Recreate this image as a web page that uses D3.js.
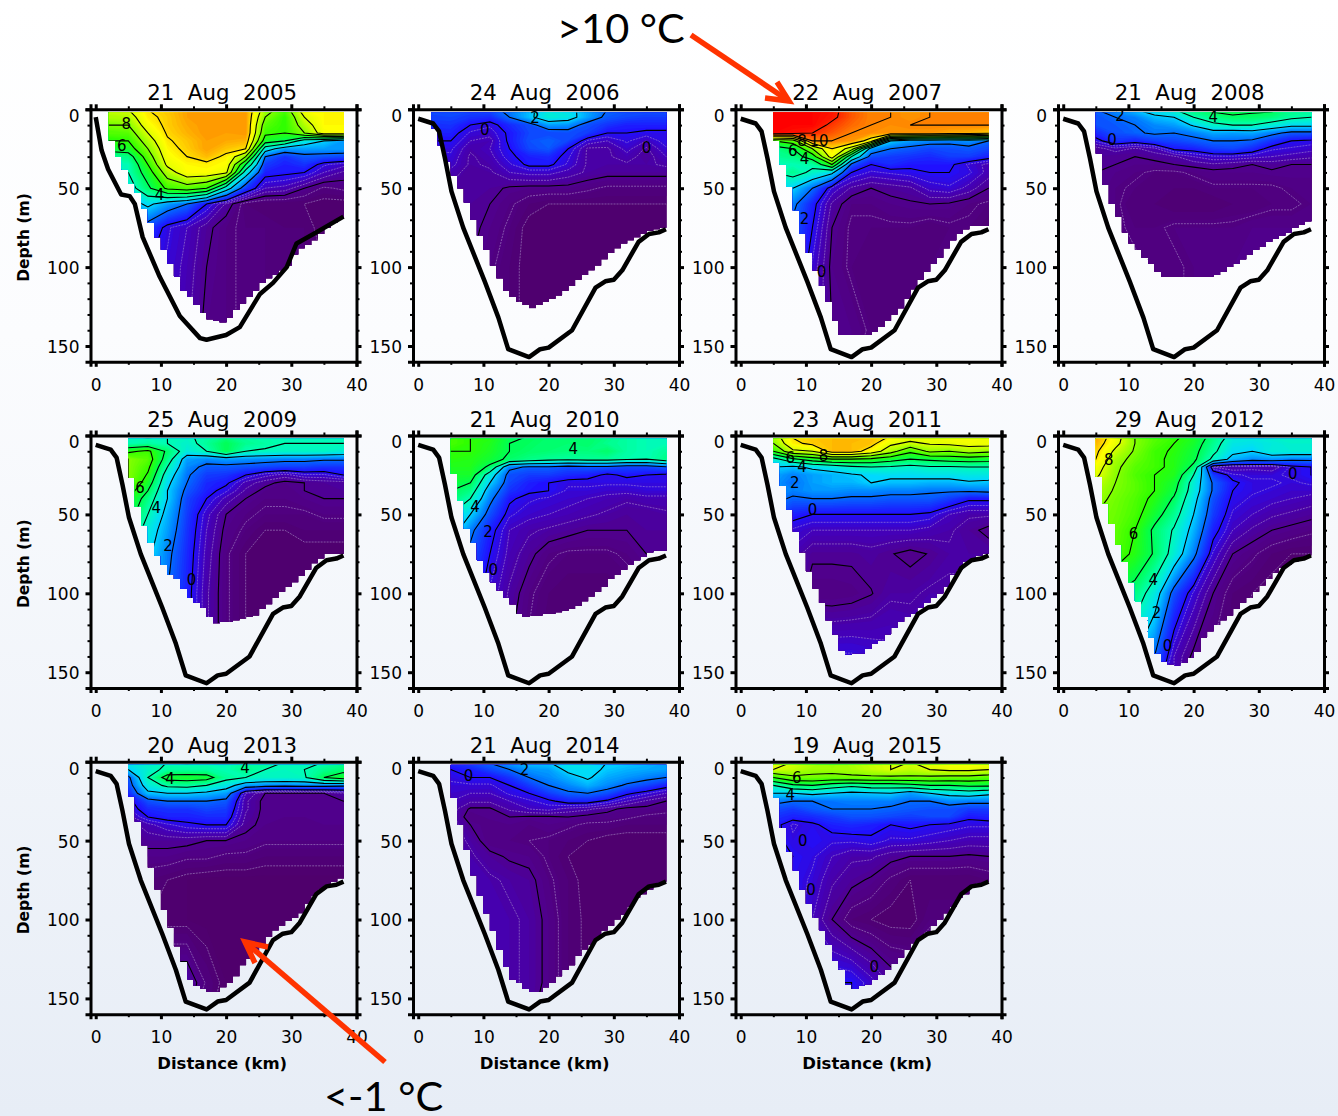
<!DOCTYPE html>
<html>
<head>
<meta charset="utf-8">
<script src="https://cdn.jsdelivr.net/npm/d3@7"></script>
<style>
  body { margin: 0; }
  text { font-family: "DejaVu Sans", sans-serif; fill: #000; }
</style>
</head>
<body>
<div id="chart"></div>
<script>
// Stations (km) and depth levels (m) of the temperature tables
var stations = [5, 8, 11, 14, 17, 20, 23, 26, 29, 32, 35, 38];
var depths = [0, 5, 10, 15, 20, 25, 30, 35, 40, 50, 60, 75, 100, 140];

// Temperature (deg C), one row per depth level
var temp2005 = [
  [7, 8, 8.3, 8.7, 8.8, 8.7, 8.8, 6.5, 5.5, 7.6, 7.7, 7.7],
  [6.5, 7.8, 8.2, 8.7, 8.8, 8.7, 8.8, 6, 5, 7, 7.7, 7.7],
  [6, 7.5, 8.2, 8.6, 8.8, 8.7, 8.8, 5.5, 5, 6.5, 7.7, 7.7],
  [5.5, 7, 8.1, 8.5, 8.8, 8.7, 8.8, 5.2, 5, 6, 7.5, 7.6],
  [5, 6.5, 7.9, 8.3, 8.7, 8.6, 8.5, 4.5, 4, 2.5, 2, 1.5],
  [4.5, 6, 7.7, 8.2, 8.7, 8.3, 8, 2.5, 1.5, 1.5, 1.5, 1.5],
  [3.5, 5.5, 7.5, 8, 8.4, 7.8, 6, 1, 0.4, 0.8, 0.7, 0.6],
  [3, 5, 7.2, 7.7, 7.8, 7.6, 4, 0.5, 0.2, 0.4, -0.2, -0.4],
  [3, 4.5, 6.5, 7.6, 7.6, 7.2, 2.5, 0.2, 0.1, 0, -0.5, -0.8],
  [2.5, 3.8, 5.2, 5.5, 5, 2.5, 0.5, -0.5, -0.6, -1, -1.3, -1.2],
  [1.5, 2.2, 1.5, 1, 0, -0.8, -1.4, -1.5, -1.5, -1.5, -1.6, -1.6],
  [0.5, 0.6, -0.2, -0.5, -0.9, -1.2, -1.3, -1.3, -1.4, -1.4, -1.6, -1.6],
  [0, 0, -0.3, -0.6, -1, -1.2, -1.3, -1.3, -1.4, -1.4, -1.5, -1.5],
  [0, 0, -0.3, -0.7, -1.1, -1.2, -1.3, -1.3, -1.4, -1.4, -1.5, -1.5]
];
var temp2006 = [
  [0.8, 0.7, 0.8, 1.2, 1.8, 2.5, 2.3, 1.6, 1, 0.8, 0.8, 0.8],
  [0.6, 0.4, 0.3, 1, 1.8, 2.6, 2.4, 1.5, 0.8, 0.6, 0.5, 0.5],
  [0.4, 0, -0.2, 0.3, 0.7, 1.5, 1.4, 0.7, 0.4, 0.2, 0.2, 0.2],
  [0.2, -0.3, -0.4, 0.1, 0.6, 0.6, 0.7, 0.5, 0, 0, -0.1, -0.1],
  [0, -0.5, -0.6, 0.1, 0.7, 0.9, 0.6, -0.3, -0.5, -0.2, -0.5, -0.1],
  [-0.2, -0.7, -0.5, 0, 0.6, 0.8, 0, -0.8, -0.8, -0.4, -0.8, -0.3],
  [-0.3, -0.8, -0.6, -0.1, 0.2, 0.3, -0.2, -0.8, -0.8, -0.6, -0.9, -0.5],
  [-0.4, -0.8, -0.7, -0.3, 0.1, 0.1, -0.3, -0.8, -0.8, -0.8, -0.8, -0.7],
  [-0.6, -0.9, -0.8, -0.5, -0.4, -0.4, -0.6, -0.8, -0.9, -0.9, -0.9, -0.9],
  [-0.8, -0.9, -0.9, -1.05, -1.1, -1.1, -1.1, -1.2, -1.3, -1.3, -1.3, -1.3],
  [-0.8, -0.9, -1, -1.2, -1.4, -1.5, -1.5, -1.5, -1.5, -1.5, -1.5, -1.5],
  [-0.8, -0.9, -1.1, -1.3, -1.6, -1.6, -1.6, -1.6, -1.6, -1.6, -1.6, -1.6],
  [-0.9, -1, -1.2, -1.4, -1.6, -1.6, -1.6, -1.6, -1.6, -1.6, -1.6, -1.6],
  [-0.9, -1, -1.2, -1.4, -1.6, -1.6, -1.6, -1.6, -1.6, -1.6, -1.6, -1.6]
];
var temp2007 = [
  [10.5, 10.5, 10.5, 10.3, 9.5, 9, 9, 8.8, 9, 9, 9, 9],
  [10.5, 10.5, 10.5, 10.2, 9.5, 9, 9, 8.8, 9, 9, 9, 9],
  [10.5, 10.5, 10.5, 9.8, 9.3, 9, 8.9, 9, 9, 9, 9, 9],
  [10.5, 10.3, 10, 9.5, 9, 8.9, 8.8, 8.8, 8.8, 8.6, 8.5, 8.2],
  [5, 5.5, 9, 9, 8.8, 7.5, 2, 1.5, 1.3, 1.2, 1.4, 1],
  [3.5, 4, 6, 8, 6.5, 1.5, 1, 0.8, 0.6, 0.7, 0.8, 0.6],
  [3.3, 3.5, 4.5, 7.5, 3, 0.7, 0.5, 0.4, 0.3, 0.5, 0.5, 0.2],
  [3, 3, 3.2, 5, 0.8, 0, 0.3, 0.1, 0.1, 0.1, -0.3, -0.6],
  [3, 3.4, 2.8, 2.2, 0, -0.3, -0.2, -0.1, 0, 0, -0.2, -0.6],
  [2.3, 2, 1, -0.3, -0.8, -1, -0.9, -0.8, -0.4, -0.3, -0.6, -1],
  [2, 1.2, 0.2, -0.8, -1.2, -1.2, -1.1, -1.05, -1, -1.05, -1.2, -1.3],
  [1.5, 0.8, 0, -1, -1.3, -1.3, -1.3, -1.3, -1.4, -1.3, -1.3, -1.5],
  [1, 0.7, -0.3, -1.1, -1.3, -1.4, -1.4, -1.4, -1.3, -1.3, -1.3, -1.3],
  [0.5, 0.3, -0.5, -1, -1.1, -1.3, -1.3, -1.3, -1.3, -1.3, -1.3, -1.3]
];
var temp2008 = [
  [1, 1.5, 2, 2.5, 3, 3.8, 4.3, 4.5, 4.2, 4.2, 3.6, 3.4],
  [0.7, 1, 1.2, 1.8, 2, 3, 3.5, 3.8, 3.8, 3.6, 3.2, 3],
  [0.7, 0.8, 1, 1.3, 1.5, 2.1, 2.8, 3, 3, 2.6, 2.2, 2.2],
  [0.3, 0.7, 0.9, 1.1, 1, 1.2, 1.6, 1.5, 1.6, 1.2, 0.8, 0.8],
  [-0.2, 0.4, 0.2, 0.5, 0.6, 0.8, 1, 1, 0.9, 0.4, 0, -0.1],
  [-0.9, -0.6, -0.8, -0.6, 0.1, 0.2, 0.5, 0.6, 0.3, -0.2, -0.3, -0.4],
  [-0.9, -1, -1, -0.9, -0.8, -0.5, -0.3, -0.3, -0.4, -0.5, -0.6, -0.7],
  [-0.9, -1, -1.1, -1.1, -1, -0.9, -0.8, -0.9, -1, -0.9, -1, -1],
  [-1, -1.1, -1.2, -1.3, -1.3, -1.2, -1.1, -1.1, -1.1, -1.05, -1.05, -1.05],
  [-1, -1.2, -1.3, -1.4, -1.4, -1.4, -1.3, -1.3, -1.3, -1.3, -1.2, -1.2],
  [-1, -1.2, -1.4, -1.4, -1.5, -1.5, -1.5, -1.4, -1.4, -1.3, -1.3, -1.2],
  [-0.9, -1.2, -1.3, -1.3, -1.2, -1.2, -1.2, -1.2, -1.1, -1.1, -1.1, -1.1],
  [-1, -1.2, -1.2, -1.3, -1.3, -1.2, -1.2, -1.1, -1.1, -1.1, -1.1, -1.1],
  [-1, -1.2, -1.2, -1.3, -1.3, -1.2, -1.2, -1.1, -1.1, -1.1, -1.1, -1.1]
];
var temp2009 = [
  [3, 2.9, 3, 2.9, 3.2, 3.5, 3.2, 3.1, 3, 3, 3, 3],
  [3, 3.2, 3, 2.7, 3.3, 4, 3.4, 3.2, 3, 3, 3, 3],
  [4.8, 5.2, 3.8, 2.5, 3, 4, 3, 2.9, 2.8, 2.8, 2.8, 2.6],
  [6, 5.5, 3.5, 1.5, 1.3, 1.5, 1.4, 1.3, 1.2, 1.2, 1.1, 1.1],
  [6, 5.2, 3, 1.3, 0.8, 0.8, 0.7, 0.6, 0.5, 0.5, 0.4, 0.4],
  [6, 4.9, 2.5, 1.1, 0.5, 0.4, 0, -0.4, -0.6, -0.3, -0.3, 0],
  [6, 4.5, 2.2, 1, 0.3, 0.1, -0.6, -0.9, -1.1, -1, -0.9, -0.9],
  [5.5, 4, 2, 0.8, 0.2, -0.2, -0.8, -1.1, -1.2, -1, -1, -0.9],
  [5, 3.5, 2, 0.6, 0, -0.6, -1, -1.2, -1.2, -1.1, -1, -1],
  [4.5, 3, 1.7, 0.5, -0.4, -1, -1.2, -1.3, -1.3, -1.3, -1.2, -1.2],
  [4, 2.5, 1.5, 0.4, -0.5, -1.1, -1.3, -1.5, -1.5, -1.4, -1.4, -1.4],
  [3.5, 2.2, 1.2, 0.3, -0.6, -1.2, -1.5, -1.6, -1.6, -1.6, -1.6, -1.6],
  [3, 2, 1, 0.2, -0.7, -1.2, -1.5, -1.6, -1.6, -1.6, -1.6, -1.6],
  [3, 2, 1, 0.2, -0.7, -1.2, -1.5, -1.6, -1.6, -1.6, -1.6, -1.6]
];
var temp2010 = [
  [5.3, 5, 4.9, 4.2, 4, 3.8, 3.9, 3.8, 3.6, 3.2, 3, 3],
  [5.3, 5, 4.7, 4, 3.9, 3.7, 3.7, 3.8, 3.4, 3.2, 3, 3],
  [5, 5, 4.6, 4, 3.8, 3.7, 3.6, 3.6, 3.8, 3.2, 3, 3.3],
  [4.9, 4.8, 4.4, 3.8, 3.5, 3.3, 3.2, 3.3, 3.3, 3.1, 3, 3.5],
  [4.7, 4.7, 3.8, 1.2, 0.9, 0.9, 0.7, 0.8, 0.8, 0.6, 0.6, 0.9],
  [4.5, 4.5, 2.5, 0.7, 0.5, 0.5, 0.3, 0.2, -0.1, 0.1, 0, -0.1],
  [4.3, 4, 2, 0.6, 0.2, 0, -0.2, -0.2, -0.2, -0.2, -0.2, -0.2],
  [4, 3.5, 1.5, 0.4, 0.1, 0, -0.3, -0.3, -0.4, -0.4, -0.3, -0.3],
  [3.7, 3, 1.2, 0.1, -0.2, -0.3, -0.4, -0.5, -0.6, -0.7, -0.6, -0.6],
  [3, 2, 0.7, -0.2, -0.4, -0.5, -0.6, -0.7, -0.8, -0.9, -0.9, -0.8],
  [2.5, 1.2, 0.2, -0.5, -0.7, -0.8, -0.9, -1, -1, -1, -0.9, -0.9],
  [2, 0.8, 0, -0.6, -0.9, -1.2, -1.3, -1.3, -1.3, -1.2, -1, -1],
  [1.5, 0.4, -0.3, -0.8, -1.2, -1.4, -1.5, -1.5, -1.5, -1.4, -1.3, -1.2],
  [1, 0.3, -0.4, -1, -1.3, -1.5, -1.5, -1.5, -1.5, -1.4, -1.3, -1.2]
];
var temp2011 = [
  [6.5, 8.1, 8.3, 8.4, 8.4, 8.4, 8, 7.6, 7.4, 7.6, 7.5, 7.4],
  [6, 7.8, 8.2, 8.4, 8.4, 8.3, 7.2, 6.8, 7.1, 7.2, 7.4, 7.4],
  [5, 6.8, 7, 8.4, 8.4, 7.6, 6.4, 5.2, 6.2, 6, 6.4, 6.2],
  [2.6, 3.8, 4.5, 5, 5, 4.8, 4.4, 4, 4.2, 4.4, 4.5, 4.4],
  [2, 1.8, 2.2, 2.4, 2.8, 3, 2.9, 2.7, 2.9, 2.9, 3, 3],
  [1.6, 1.2, 1.5, 1.7, 1.9, 2.1, 2.2, 2.2, 2.3, 2.3, 2.4, 2.4],
  [1.5, 1, 1.5, 1.7, 1.7, 2, 1.8, 1.8, 1.7, 1.7, 1.9, 1.8],
  [1.4, 1.2, 1.4, 1.4, 1.3, 1.3, 1.2, 1.2, 1.1, 1.1, 1.1, 1.2],
  [1.2, 0.9, 1, 1, 0.9, 0.9, 0.8, 0.8, 0.8, 0.5, 0.1, 0.1],
  [0.8, 0.2, 0, 0, 0, 0, 0, 0, -0.1, -0.5, -0.7, -0.7],
  [0.4, -0.3, -0.5, -0.5, -0.5, -0.5, -0.5, -0.5, -0.6, -0.7, -0.9, -1.1],
  [0, -0.6, -0.93, -0.93, -0.93, -0.85, -0.98, -1.1, -0.98, -0.8, -0.8, -0.8],
  [0, -0.7, -1.2, -1.2, -1.15, -1.02, -0.8, -0.8, -0.7, -0.7, -0.7, -0.7],
  [0, -0.1, -0.1, -0.2, -0.2, -0.3, -0.4, -0.5, -0.5, -0.5, -0.5, -0.5]
];
var temp2012 = [
  [8.8, 7.5, 6, 5.5, 5.2, 4.7, 3.7, 2.7, 2.6, 2.8, 2.8, 2.9],
  [8.5, 7.3, 6, 5.4, 5, 4.5, 3.4, 2.4, 2.3, 2.5, 2.7, 2.7],
  [8.2, 6.8, 5.9, 5.2, 4.9, 4.3, 3.2, 2.2, 2, 2.6, 2.6, 2.6],
  [8, 6.4, 5.7, 5.2, 4.8, 4.2, 2.8, 1.7, 1.3, 1.4, 1.2, 1.2],
  [7.5, 6.2, 5.5, 5.2, 4.8, 3.8, -0.5, -0.7, -0.6, -0.7, -0.2, 0],
  [7.2, 6.1, 5.4, 5, 4.7, 3, 0.5, -0.2, -0.3, -0.3, -0.2, 0],
  [6.8, 6, 5.5, 5, 4.4, 2.6, 0.9, 0.1, -0.2, -0.2, -0.3, -0.2],
  [6.5, 5.9, 5.5, 5, 4.2, 2.5, 0.9, 0, -0.2, -0.3, -0.4, -0.4],
  [6.3, 5.8, 5.4, 4.8, 3.9, 2.3, 0.7, -0.1, -0.3, -0.4, -0.5, -0.6],
  [6, 5.7, 5.3, 4.4, 3.4, 2, 0.5, -0.3, -0.5, -0.7, -0.8, -0.9],
  [5.9, 5.6, 5, 3.8, 2.9, 1.7, 0.2, -0.5, -0.8, -1, -1.1, -1.2],
  [5.8, 5.5, 4.8, 3.9, 2.6, 1.2, -0.3, -1, -1.2, -1.4, -1.5, -1.5],
  [4.3, 4, 3.6, 2.5, 0.7, -0.3, -1, -1.4, -1.5, -1.6, -1.6, -1.6],
  [3, 2.5, 2, 1, -0.5, -1.1, -1.3, -1.5, -1.6, -1.6, -1.6, -1.6]
];
var temp2013 = [
  [2.5, 2.8, 3, 2.9, 3, 3, 3.3, 3.5, 3, 2.9, 3, 3.3],
  [2, 2.7, 3.2, 3.2, 3.2, 3, 3.5, 3, 2.9, 3, 3.4, 3.7],
  [0.8, 3, 4.4, 4.5, 4.4, 3.3, 3, 2.8, 2.8, 2.9, 4, 4.5],
  [0.6, 2.5, 3.2, 3.3, 3, 2.4, 1.5, 1.3, 1.2, 1.3, 1.3, 1.2],
  [0.3, 1.8, 2, 2, 1.8, 1.5, -0.5, -1, -1, -1, -1, -0.8],
  [-0.2, 0.7, 1, 1, 1, 0.8, -0.7, -1.1, -1.1, -1.05, -1.05, -1],
  [-0.3, 0.3, 0.4, 0.4, 0.6, 0.5, -0.7, -1.1, -1.1, -1.1, -1.1, -1.1],
  [-0.6, 0, 0.2, 0.2, 0.3, 0.3, -0.8, -1.1, -1.1, -1.1, -1.1, -1.1],
  [-0.9, -0.6, -0.3, -0.1, 0, 0, -0.9, -1.1, -1.15, -1.15, -1.1, -1.1],
  [-1, -0.9, -0.9, -0.9, -1, -1, -1.1, -1.2, -1.2, -1.2, -1.2, -1.2],
  [-1.1, -1.1, -1.1, -1.2, -1.2, -1.3, -1.3, -1.4, -1.4, -1.4, -1.4, -1.4],
  [-1.3, -1.4, -1.5, -1.6, -1.65, -1.65, -1.65, -1.65, -1.65, -1.65, -1.65, -1.65],
  [-1.4, -1.5, -1.6, -1.6, -1.65, -1.65, -1.65, -1.65, -1.65, -1.65, -1.65, -1.65],
  [-0.7, -0.7, -0.7, -0.7, -1.3, -1.6, -1.65, -1.65, -1.65, -1.65, -1.65, -1.65]
];
var temp2014 = [
  [0.4, 0.7, 1.1, 1.6, 2, 2, 2.5, 2.5, 2, 2, 1.8, 1.6],
  [0, 0.2, 0.6, 1, 1.4, 1.5, 2.2, 2.2, 1.9, 1.7, 1.6, 1.5],
  [-0.2, 0, 0, 0.4, 1, 1.3, 1.7, 2.1, 1.6, 1.4, 1.2, 1],
  [-0.3, -0.3, -0.3, 0, 0.5, 1, 1.3, 1.7, 1.3, 0.9, 0.6, 0.2],
  [-0.4, -0.5, -0.5, -0.2, 0, 0.5, 0.9, 1, 0.7, 0.1, -0.2, -0.5],
  [-0.5, -0.7, -0.7, -0.5, -0.3, -0.1, 0.2, 0.2, -0.1, -0.5, -0.8, -1],
  [-0.6, -1.05, -1.05, -0.7, -0.5, -0.4, -0.6, -0.7, -0.9, -1.1, -1.1, -1.2],
  [-0.6, -1.2, -1.05, -1, -1.05, -1.05, -1, -1.1, -1.15, -1.2, -1.3, -1.3],
  [-0.6, -1, -1.2, -1.1, -1.2, -1.1, -1.2, -1.3, -1.3, -1.4, -1.4, -1.4],
  [-0.6, -0.8, -1.2, -1.2, -1.25, -1.3, -1.4, -1.5, -1.6, -1.6, -1.6, -1.6],
  [-0.5, -0.7, -0.9, -1.05, -1.1, -1.3, -1.5, -1.6, -1.6, -1.6, -1.6, -1.6],
  [-0.3, -0.6, -0.7, -0.8, -0.9, -1.2, -1.4, -1.6, -1.6, -1.6, -1.6, -1.6],
  [-0.4, -0.5, -0.6, -0.7, -0.8, -1.1, -1.4, -1.55, -1.6, -1.6, -1.6, -1.6],
  [-0.4, -0.5, -0.6, -0.7, -0.8, -1.1, -1.4, -1.55, -1.6, -1.6, -1.6, -1.6]
];
var temp2015 = [
  [7.3, 7, 6.6, 6.2, 6.5, 6.8, 7, 7, 7.3, 7.6, 7.7, 7.6],
  [7, 6.7, 6.3, 6.3, 6.4, 6.7, 7, 6.7, 7, 7.2, 7.2, 7],
  [5, 5.8, 5.8, 5.7, 5.8, 5.8, 5.8, 5.8, 5.8, 5.7, 5.7, 5.5],
  [3, 3.8, 4, 3.5, 3.2, 3.5, 3.5, 3.7, 4, 4, 4.2, 4.2],
  [2, 2, 2.2, 2, 1.8, 1.9, 2, 1.5, 2, 2.3, 2.5, 2.2],
  [1.2, 1, 1, 1.1, 1.2, 1.2, 1.2, 1, 1, 1.3, 1.2, 1.2],
  [0.7, 0.5, 0.8, 1, 1, 1, 0.9, 0.8, 0.7, 0.7, 0.5, 0.5],
  [0.4, 0.2, 0.3, 0.5, 0.7, 0.7, 0.6, 0.5, 0.6, 0.6, 0.1, 0.2],
  [0.2, -0.3, -0.1, 0.2, 0.3, 0.2, 0, 0.1, 0, -0.1, -0.2, -0.2],
  [0.2, -0.2, 0, -0.2, -0.2, -0.1, -0.3, -0.3, -0.4, -0.5, -0.6, -0.6],
  [0.3, 0, -0.2, -0.5, -0.7, -0.7, -0.9, -1, -1, -1, -1.05, -1],
  [0.1, -0.1, -0.3, -0.7, -0.9, -1.05, -1.3, -1.5, -1.5, -1.5, -1.5, -1.4],
  [0.1, 0, -0.5, -1, -1.4, -1.5, -1.6, -1.6, -1.3, -1.3, -1.3, -1.3],
  [0.1, 0, 0, 0, 0, -0.4, -0.8, -0.9, -0.9, -0.9, -0.9, -0.9]
];

// Lowest sampled depth (m) of each 1 km column, first column starts at firstKm
var bottom2005 = [20, 30, 38, 47, 53, 63, 72, 81, 89, 98, 106, 115, 119, 124, 129, 133, 134, 135, 132, 127, 123, 119, 115, 110, 107, 105, 102, 99, 92, 88, 86, 83, 79, 75, 72, 69];
var bottom2006 = [12, 23, 33, 42, 50, 59, 70, 80, 89, 99, 107, 115, 119, 122, 124, 126, 124, 122, 120, 118, 115, 112, 108, 105, 102, 99, 95, 91, 88, 85, 83, 81, 79, 77, 76, 75];
var bottom2007 = [20, 35, 49, 64, 79, 91, 102, 112, 122, 134, 143, 143, 143, 143, 143, 141, 138, 134, 130, 126, 120, 114, 108, 103, 98, 94, 88, 83, 79, 76, 74, 74, 74];
var bottom2008 = [28, 48, 60, 68, 78, 85, 89, 94, 98, 103, 106, 106, 106, 106, 106, 106, 106, 106, 105, 103, 100, 98, 95, 92, 89, 87, 84, 82, 80, 78, 75, 73, 71];
var bottom2009 = [27, 45, 57, 68, 76, 82, 88, 91, 97, 103, 106, 109, 115, 119, 118, 118, 117, 116, 115, 114, 110, 107, 103, 99, 96, 93, 89, 85, 81, 78, 75, 75, 75];
var bottom2010 = [24, 41, 59, 68, 79, 87, 93, 98, 103, 107, 113, 115, 114, 114, 113, 113, 112, 111, 110, 108, 105, 102, 99, 96, 91, 88, 85, 82, 79, 77, 74, 73, 73];
var bottom2011 = [17, 32, 47, 61, 74, 86, 97, 106, 117, 126, 136, 139, 138, 138, 135, 132, 130, 126, 122, 118, 115, 113, 109, 106, 103, 100, 96, 88, 85, 80, 78, 76, 75];
var bottom2012 = [26, 43, 56, 69, 80, 93, 105, 115, 128, 138, 143, 145, 146, 144, 141, 137, 128, 124, 120, 117, 114, 110, 106, 103, 99, 95, 91, 87, 84, 82, 80, 78, 76];
var bottom2013 = [22, 38, 53, 67, 81, 94, 105, 117, 127, 138, 142, 144, 146, 146, 143, 140, 136, 129, 125, 120, 116, 111, 107, 104, 101, 99, 96, 90, 85, 81, 78, 76, 74];
var bottom2014 = [23, 40, 56, 72, 85, 96, 107, 119, 130, 138, 140, 144, 146, 146, 143, 140, 136, 132, 129, 123, 119, 116, 112, 107, 104, 100, 97, 92, 86, 84, 81, 78, 76];
var bottom2015 = [23, 42, 57, 69, 81, 90, 99, 107, 116, 126, 132, 141, 144, 142, 141, 138, 135, 132, 128, 124, 119, 115, 112, 108, 104, 100, 96, 92, 86, 84, 79, 77, 76];

// Sea floor, [km, depth m]. The 2005 section has its own line.
var floor2005 = [[0, 5], [0.9, 26], [1.9, 38], [3.9, 54], [5.2, 55], [6, 60], [7.2, 81], [9.8, 106], [12.9, 131], [16, 145], [17, 146], [20, 143], [22.1, 138], [25.2, 117], [27.2, 110], [29.3, 100], [30.8, 85], [33.4, 79], [38, 68]];
var floorLine = [[0, 6], [2.3, 9], [3.2, 14], [4.1, 31], [5.1, 52], [6.9, 75], [10.2, 109], [12.3, 132], [13.8, 152], [17, 157], [18.7, 152], [20, 151], [23.6, 140], [27.2, 113], [28.7, 109], [30, 108], [31.3, 102], [33.8, 84], [35.4, 79], [36.9, 78], [38, 76]];

// Contour labels: [text, km, depth m]
var labels2005 = [["8", 4.7, 9], ["6", 4, 23], ["4", 9.8, 54]];
var labels2006 = [["2", 17.9, 5], ["0", 10.2, 13], ["0", 35, 24]];
var labels2007 = [["10", 12, 20], ["8", 9.4, 20], ["6", 8, 26], ["4", 9.8, 31], ["2", 9.8, 69], ["0", 12.4, 103]];
var labels2008 = [["4", 23, 4.5], ["2", 8.7, 4], ["0", 7.5, 19]];
var labels2009 = [["6", 6.8, 33], ["4", 9.3, 46], ["2", 11.1, 70], ["0", 14.7, 91]];
var labels2010 = [["4", 23.8, 8], ["4", 8.7, 45], ["2", 10.7, 61], ["0", 11.5, 85]];
var labels2011 = [["8", 12.7, 13], ["6", 7.6, 14], ["4", 9.4, 20], ["2", 8.3, 30], ["0", 11, 47]];
var labels2012 = [["8", 7, 15], ["6", 10.8, 62], ["4", 13.8, 91], ["2", 14.3, 112], ["0", 16, 133], ["0", 35.2, 24]];
var labels2013 = [["4", 11.4, 11], ["4", 22.9, 3.5]];
var labels2014 = [["2", 16.3, 5], ["0", 7.7, 9]];
var labels2015 = [["6", 8.6, 10], ["4", 7.6, 21], ["0", 9.5, 50], ["0", 20.5, 130], ["0", 10.8, 81]];

var titles = ["21  Aug  2005", "24  Aug  2006", "22  Aug  2007", "21  Aug  2008",
  "25  Aug  2009", "21  Aug  2010", "23  Aug  2011", "29  Aug  2012",
  "20  Aug  2013", "21  Aug  2014", "19  Aug  2015"];
var tables = [temp2005, temp2006, temp2007, temp2008, temp2009, temp2010, temp2011, temp2012, temp2013, temp2014, temp2015];
var bottoms = [bottom2005, bottom2006, bottom2007, bottom2008, bottom2009, bottom2010, bottom2011, bottom2012, bottom2013, bottom2014, bottom2015];
var firstKm = [2, 2, 5, 5, 5, 5, 5, 5, 5, 5, 5];
var floors = [floor2005, floorLine, floorLine, floorLine, floorLine, floorLine, floorLine, floorLine, floorLine, floorLine, floorLine];
var labelSets = [labels2005, labels2006, labels2007, labels2008, labels2009, labels2010, labels2011, labels2012, labels2013, labels2014, labels2015];

// Set up the SVG element and the pale page gradient
var svg = d3.select("#chart").append("svg")
  .attr("width", 1338)
  .attr("height", 1116)
  .style("display", "block");

var grad = svg.append("defs").append("linearGradient")
  .attr("id", "page").attr("x1", 0).attr("y1", 0).attr("x2", 0).attr("y2", 1);
grad.append("stop").attr("offset", "0").attr("stop-color", "#ffffff");
grad.append("stop").attr("offset", "0.3").attr("stop-color", "#fbfcfe");
grad.append("stop").attr("offset", "1").attr("stop-color", "#e7edf6");
svg.append("rect").attr("width", 1338).attr("height", 1116).attr("fill", "url(#page)");

// Temperature colours
var color = d3.scaleLinear()
  .domain([-1.65, -1.1, -0.6, 0, 1, 2, 3, 4, 5, 6, 7, 7.6, 8.3, 9, 10, 10.5])
  .range(["#4f006c", "#50008c", "#4400b8", "#2010ff", "#0070ff", "#00d8ff", "#00ffb0", "#00ff50", "#30ff00", "#88ff00", "#e0ff00", "#ffff00", "#ffc000", "#ff8000", "#ff2000", "#ff0000"])
  .clamp(true);

var fillLevels = d3.range(-1.8, 11, 0.1);
var lineLevels = d3.range(-1, 11, 1);
var faintLevels = [-1.5, -1.25, -0.75, -0.5, -0.25];

// Contour grid index to km and metres, padded past the table edges
var colIndex = [0].concat(stations.map(function (d, i) { return i + 0.5; }), [stations.length]);
var colKm = [-5].concat(stations, [45]);
var rowIndex = [0].concat(depths.map(function (d, i) { return i + 0.5; }), [depths.length]);
var rowM = [-10].concat(depths, [175]);
var colScale = d3.scaleLinear().domain(colIndex).range(colKm);
var rowScale = d3.scaleLinear().domain(rowIndex).range(rowM);

var panelW = 266;
var panelH = 252.5;

titles.forEach(function (title, p) {
  var col = p % 4;
  var row = Math.floor(p / 4);
  var left = 90.5 + col * 322.5;
  var top = 109.3 + row * 326.2;

  var x = d3.scaleLinear().domain([-0.8, 40]).range([0, panelW]);
  var y = d3.scaleLinear().domain([0, 160]).range([0, panelH]);

  var g = svg.append("g").attr("transform", "translate(" + left + "," + top + ")");

  // Stepped outline of the sampled part of the section
  var clipId = "section" + p;
  var clip = g.append("clipPath").attr("id", clipId);
  clip.selectAll("rect")
    .data(bottoms[p])
    .enter()
    .append("rect")
    .attr("x", function (d, i) { return x(firstKm[p] + i); })
    .attr("y", y(2))
    .attr("width", x(1) - x(0) + 0.4)
    .attr("height", function (d) { return y(d) - y(2); });

  var flat = d3.merge(tables[p]);
  var contours = d3.contours().size([stations.length, depths.length]);
  var path = d3.geoPath(d3.geoTransform({
    point: function (cx, cy) {
      this.stream.point(x(colScale(cx)), y(rowScale(cy)));
    }
  }));

  var section = g.append("g").attr("clip-path", "url(#" + clipId + ")");

  section.append("rect")
    .attr("width", panelW).attr("height", panelH)
    .attr("fill", color(-1.8));

  section.selectAll("path.band")
    .data(contours.thresholds(fillLevels)(flat))
    .enter()
    .append("path")
    .attr("class", "band")
    .attr("d", path)
    .attr("fill", function (d) { return color(d.value); });

  section.selectAll("path.faint")
    .data(contours.thresholds(faintLevels)(flat))
    .enter()
    .append("path")
    .attr("class", "faint")
    .attr("d", path)
    .attr("fill", "none")
    .attr("stroke", "#b9a6d8")
    .attr("stroke-opacity", 0.5)
    .attr("stroke-dasharray", "2 1")
    .attr("stroke-width", 1);

  section.selectAll("path.line")
    .data(contours.thresholds(lineLevels)(flat))
    .enter()
    .append("path")
    .attr("class", "line")
    .attr("d", path)
    .attr("fill", "none")
    .attr("stroke", "#000")
    .attr("stroke-width", 1.1);

  // Contour labels
  g.selectAll("text.clabel")
    .data(labelSets[p])
    .enter()
    .append("text")
    .attr("class", "clabel")
    .attr("x", function (d) { return x(d[1]); })
    .attr("y", function (d) { return y(d[2]); })
    .attr("dy", "0.36em")
    .attr("text-anchor", "middle")
    .attr("font-size", 15)
    .text(function (d) { return d[0]; });

  // Sea floor
  var floor = d3.line()
    .x(function (d) { return x(d[0]); })
    .y(function (d) { return y(d[1]); });
  g.append("path")
    .attr("d", floor(floors[p]))
    .attr("fill", "none")
    .attr("stroke", "#000")
    .attr("stroke-width", 4.5)
    .attr("stroke-linejoin", "round");

  // Axes, major ticks every 10 km / 50 m and minor every 5 km / 10 m
  var xMajor = d3.range(0, 41, 10);
  var xMinor = d3.range(5, 40, 10);
  var yMajor = [0, 50, 100, 150];
  var yMinor = d3.range(10, 160, 10).filter(function (d) { return d % 50 != 0; });

  function frame(axis, dx, dy, major, minor, withLabels, padding) {
    var a = g.append("g").attr("transform", "translate(" + dx + "," + dy + ")");
    a.call(axis.tickValues(major).tickSize(5).tickPadding(padding)
      .tickFormat(withLabels ? d3.format("d") : ""));
    var b = g.append("g").attr("transform", "translate(" + dx + "," + dy + ")");
    b.call(axis.tickValues(minor).tickSize(3).tickFormat(""));
    b.select(".domain").remove();
    a.selectAll("line,path").attr("stroke-width", 3);
    b.selectAll("line").attr("stroke-width", 2);
    return a;
  }

  var xAxis = frame(d3.axisBottom(x), 0, panelH, xMajor, xMinor, true, 12);
  frame(d3.axisTop(x), 0, 0, xMajor, xMinor, false, 3);
  var yAxis = frame(d3.axisLeft(y), 0, 0, yMajor, yMinor, true, 6);
  frame(d3.axisRight(y), panelW, 0, yMajor, yMinor, false, 3);

  xAxis.selectAll("text").attr("font-size", 17).attr("font-family", "DejaVu Sans");
  yAxis.selectAll("text").attr("font-size", 17).attr("font-family", "DejaVu Sans");
  // The 0 label sits below its tick, the others a little lower than theirs
  yAxis.selectAll("text").attr("transform", function (d) { return d == 0 ? "translate(0,7)" : "translate(0,1)"; });

  // Title
  g.append("text")
    .attr("x", x(19.4))
    .attr("y", -9)
    .attr("text-anchor", "middle")
    .attr("font-size", 21.3)
    .style("white-space", "pre")
    .text(title);

  // Axis titles on the outer panels only
  if (col == 0) {
    g.append("text")
      .attr("transform", "translate(-62," + (panelH / 2 + 2) + ") rotate(-90)")
      .attr("text-anchor", "middle")
      .attr("font-size", 15.5)
      .attr("font-weight", "bold")
      .text("Depth (m)");
  }
  if (row == 2) {
    g.append("text")
      .attr("x", x(19.4))
      .attr("y", panelH + 55)
      .attr("text-anchor", "middle")
      .attr("font-size", 16.5)
      .attr("font-weight", "bold")
      .text("Distance (km)");
  }
});

// Red call-outs
var callouts = [
  { text: ">10 °C", tx: 557, ty: 43, tail: [691, 35], tip: [789, 101], barbs: [[765, 98], [777, 82]] },
  { text: "<-1 °C", tx: 324, ty: 1111, tail: [385, 1062], tip: [245, 942], barbs: [[268, 947], [255, 963]] }
];
callouts.forEach(function (c) {
  svg.append("path")
    .attr("d", d3.line()([c.barbs[0], c.tip, c.barbs[1]]))
    .attr("fill", "none")
    .attr("stroke", "#ff3300")
    .attr("stroke-width", 5.5);
  svg.append("path")
    .attr("d", d3.line()([c.tail, c.tip]))
    .attr("stroke", "#ff3300")
    .attr("stroke-width", 5.5);
  svg.append("text")
    .attr("x", c.tx)
    .attr("y", c.ty)
    .attr("font-size", 41.5)
    .style("font-family", "Lato")
    .text(c.text);
});
</script>
</body>
</html>
